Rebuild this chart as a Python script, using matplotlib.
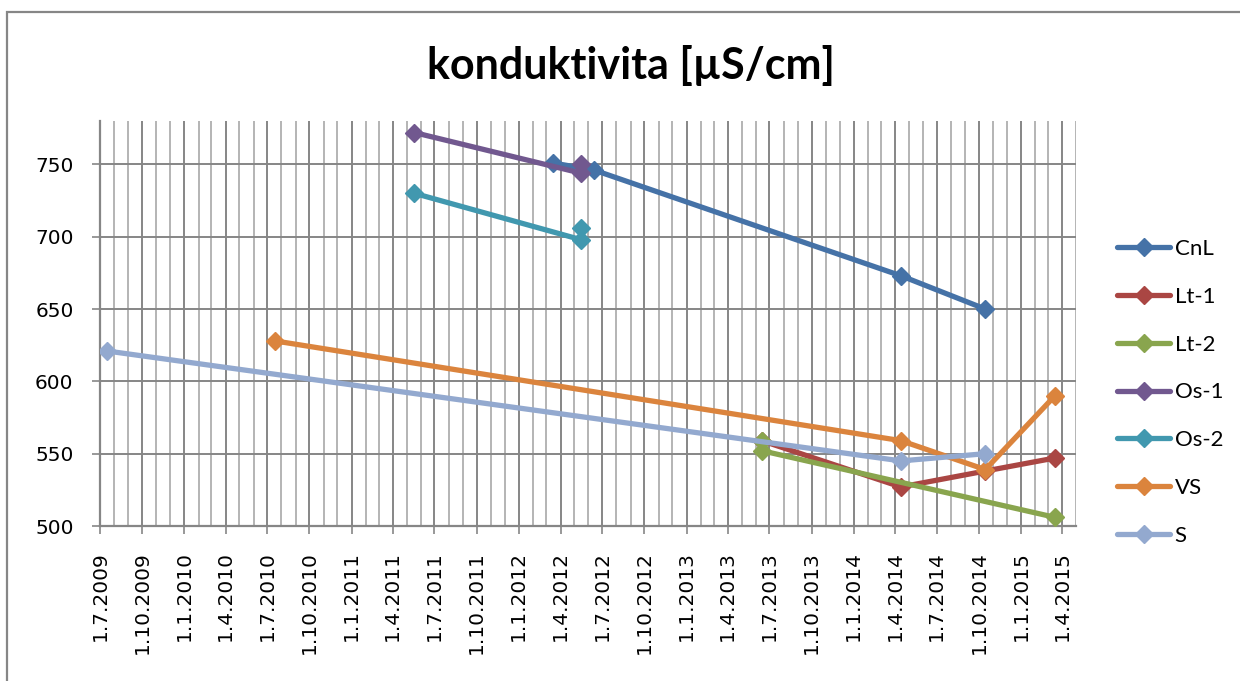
import matplotlib
matplotlib.use("Agg")
import matplotlib.pyplot as plt
import matplotlib.dates as mdates
from matplotlib.ticker import FuncFormatter, MultipleLocator
from matplotlib.patches import Rectangle
import pandas as pd

# ---- data ----
cnl_dates = ["2012-03-15", "2012-06-14", "2014-04-14", "2014-10-15"]
cnl_vals = [751, 746, 673, 650]
lt1_dates = ["2013-06-14", "2014-04-14", "2014-10-15", "2015-03-16"]
lt1_vals = [559, 527, 538, 547]
lt2_dates = ["2013-06-14", "2013-06-15", "2015-03-16"]
lt2_vals = [559, 552, 506]
os1_dates = ["2011-05-18", "2012-05-15", "2012-05-16"]
os1_vals = [772, 744, 750]
os2_dates = ["2011-05-18", "2012-05-15", "2012-05-16"]
os2_vals = [730, 698, 706]
vs_dates = ["2010-07-17", "2014-04-14", "2014-10-15", "2015-03-16"]
vs_vals = [628, 559, 539, 590]
s_dates = ["2009-07-16", "2014-04-14", "2014-10-15"]
s_vals = [621, 545, 550]

series = [
    ("CnL", cnl_dates, cnl_vals, "#4572A7"),
    ("Lt-1", lt1_dates, lt1_vals, "#AA4643"),
    ("Lt-2", lt2_dates, lt2_vals, "#89A54E"),
    ("Os-1", os1_dates, os1_vals, "#71588F"),
    ("Os-2", os2_dates, os2_vals, "#4198AF"),
    ("VS", vs_dates, vs_vals, "#DB843D"),
    ("S", s_dates, s_vals, "#93A9CF"),
]

title = "konduktivita [µS/cm]"

W, H = 1240, 681
fig = plt.figure(figsize=(W / 100, H / 100), dpi=100)
fig.patch.set_facecolor("white")

left, right, top, bottom = 100, 1076, 121, 526
ax = fig.add_axes([left / W, 1 - bottom / H, (right - left) / W, (bottom - top) / H])

for name, d, v, c in series:
    ax.plot(pd.to_datetime(d), v, color=c, lw=3.8, marker="D", markersize=9.3,
            markeredgewidth=1.0, markeredgecolor=c, label=name,
            solid_joinstyle="round", solid_capstyle="round", zorder=3)

ax.set_xlim(pd.Timestamp("2009-07-01"), pd.Timestamp("2015-05-01"))
ax.set_ylim(500, 780)

ax.xaxis.set_major_locator(mdates.MonthLocator(bymonth=[1, 4, 7, 10]))
ax.xaxis.set_minor_locator(mdates.MonthLocator())
ax.xaxis.set_major_formatter(FuncFormatter(
    lambda x, p: (lambda d: f"{d.day}.{d.month}.{d.year}")(mdates.num2date(x))))
ax.yaxis.set_major_locator(MultipleLocator(50))

grid_dark = "#868686"
grid_light = "#B4B4B4"
ax.grid(which="major", axis="both", color=grid_dark, lw=1.4, zorder=1)
ax.grid(which="minor", axis="x", color=grid_light, lw=1.4, zorder=0.5)
ax.set_axisbelow(True)

for s in ["top", "right"]:
    ax.spines[s].set_visible(False)
for s in ["left", "bottom"]:
    ax.spines[s].set_color(grid_dark)
    ax.spines[s].set_linewidth(1.6)

ax.tick_params(axis="y", which="major", direction="out", length=6, width=1.2,
               color=grid_dark, pad=13, labelsize=14.5, labelcolor="#000000")
ax.tick_params(axis="x", which="major", direction="out", length=6, width=1.2,
               color=grid_dark, pad=12, labelsize=14.5, labelrotation=90)
ax.tick_params(axis="x", which="minor", length=0)

leg = ax.legend(loc="upper left", bbox_to_anchor=(1117 / W, 1 - 239 / H),
                bbox_transform=fig.transFigure, frameon=False,
                prop={"family": "Lato", "size": 16},
                handlelength=2.4, handletextpad=0.2, labelspacing=1.25,
                borderpad=0, borderaxespad=0)

fig.text(631 / W, 1 - 66 / H, title, ha="center", va="center",
         fontsize=31, fontweight="bold", family="Lato")

fig.patches.append(Rectangle((7 / W, -0.1), 2, (H - 12) / H + 0.1,
                             transform=fig.transFigure, fill=False,
                             edgecolor=grid_dark, lw=1.6, zorder=10))

fig.savefig("out.png", dpi=100, facecolor="white")
